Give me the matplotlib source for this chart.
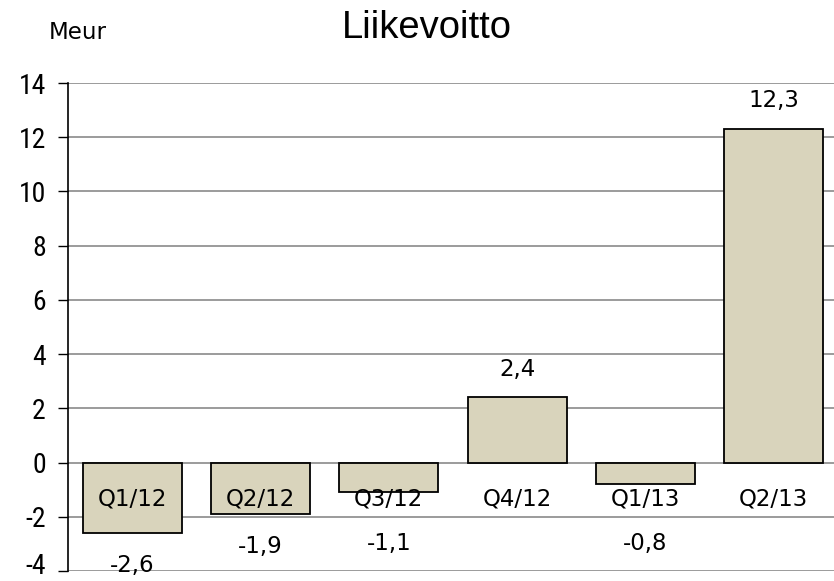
import matplotlib
matplotlib.use("Agg")
import matplotlib.pyplot as plt
import matplotlib.transforms as mtransforms
from matplotlib import font_manager

categories = ["Q1/12", "Q2/12", "Q3/12", "Q4/12", "Q1/13", "Q2/13"]
values = [-2.6, -1.9, -1.1, 2.4, -0.8, 12.3]
value_labels = ["-2,6", "-1,9", "-1,1", "2,4", "-0,8", "12,3"]
yticks = [-4, -2, 0, 2, 4, 6, 8, 10, 12, 14]

names = {f.name for f in font_manager.fontManager.ttflist}
cond = "Roboto Condensed" if "Roboto Condensed" in names else "DejaVu Sans"
title_font = "Liberation Sans" if "Liberation Sans" in names else "DejaVu Sans"

fig = plt.figure(figsize=(8.34, 5.81), dpi=100)
ax = fig.add_axes([68 / 834, (581 - 571) / 581, 770 / 834, (571 - 83) / 581])

x = list(range(len(categories)))
ax.bar(x, values, width=0.77, color="#D9D4BC", edgecolor="black", linewidth=1.3, zorder=3)

ax.set_xlim(-0.5, len(categories) - 0.5)
ax.set_ylim(-4, 14)
ax.set_yticks(yticks)
ax.set_yticklabels([str(t) for t in yticks], fontsize=20, family=cond)
ax.yaxis.grid(True, color="#8a8a8a", linewidth=1.2, zorder=0)
ax.set_axisbelow(True)
ax.set_xticks([])
for s in ["top", "right", "bottom"]:
    ax.spines[s].set_visible(False)
ax.spines["left"].set_color("black")
ax.spines["left"].set_linewidth(1.2)
ax.tick_params(axis="y", length=7, width=1, color="black", pad=9)

# nudge the lowest tick label up so it stays inside the canvas
low = ax.yaxis.get_major_ticks()[0].label1
low.set_transform(low.get_transform() + mtransforms.ScaledTranslation(0, 8 / 100, fig.dpi_scale_trans))

for xi, c in zip(x, categories):
    ax.text(xi, -1.25, c, ha="center", va="center_baseline", fontsize=16.5, zorder=4)

for xi, v, lab in zip(x, values, value_labels):
    if v >= 0:
        y = v + 1.13
    else:
        y = v - 1.12 if v < -1.5 else -2.9
    ax.text(xi, y, lab, ha="center", va="center_baseline", fontsize=16.5, zorder=4)

fig.text(427 / 834, 1 - 24 / 581, "Liikevoitto", ha="center", va="center_baseline", fontsize=27.5, family=title_font)
fig.text(78 / 834, 1 - 30 / 581, "Meur", ha="center", va="center_baseline", fontsize=16.5, family="DejaVu Sans")

fig.savefig("out.png", dpi=100)
